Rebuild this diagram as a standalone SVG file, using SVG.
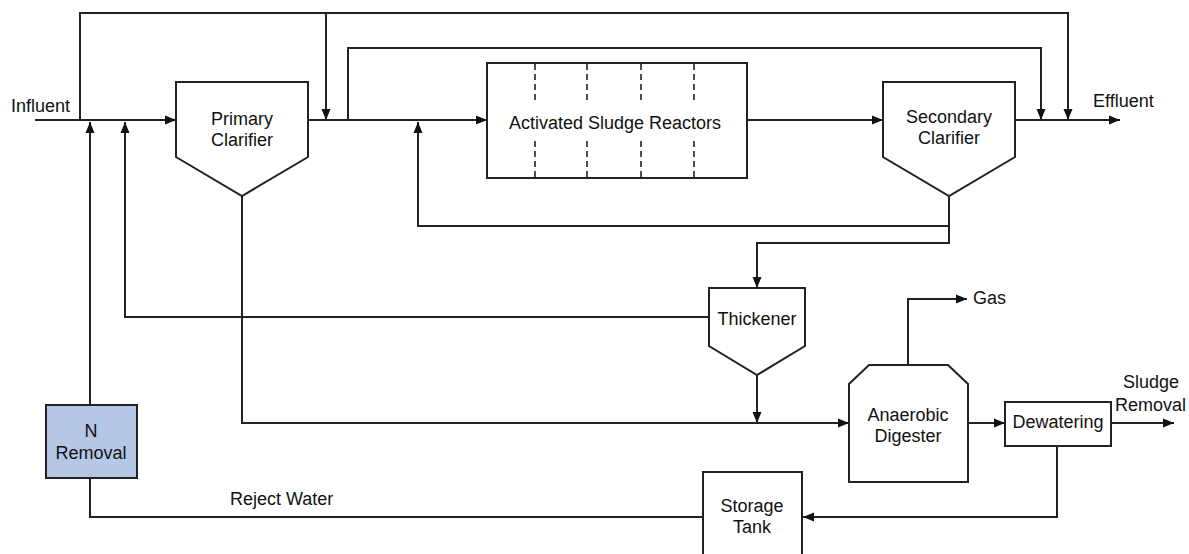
<svg xmlns="http://www.w3.org/2000/svg" width="1189" height="554" viewBox="0 0 1189 554">
<defs>
<marker id="arr" markerUnits="userSpaceOnUse" markerWidth="11" markerHeight="10" refX="11" refY="5" orient="auto">
<path d="M0,0.5 L11,5 L0,9.5 z" fill="#111"/>
</marker>
<style>
.n{fill:#fff;stroke:#222;stroke-width:2}
.c{fill:none;stroke:#222;stroke-width:2}
.a{marker-end:url(#arr)}
.d{stroke:#222;stroke-width:1.6;stroke-dasharray:6,4}
text{font-family:"Liberation Sans",Arial,sans-serif;font-size:18px;fill:#111}
.m{text-anchor:middle}
</style>
</defs>
<rect width="1189" height="554" fill="#fff"/>
<g id="connectors">
<path class="c a" d="M35,120 H176"/>
<path class="c a" d="M80,120 V13 H1068 V120"/>
<path class="c a" d="M326,13 V120"/>
<path class="c a" d="M308,120 H487"/>
<path class="c a" d="M348,120 V48 H1041 V120"/>
<path class="c a" d="M747,120 H883"/>
<path class="c a" d="M1015,120 H1120"/>
<path class="c a" d="M949,196 V243 H757 V288"/>
<path class="c a" d="M949,226 H418 V122"/>
<path class="c a" d="M709,317 H125 V122"/>
<path class="c a" d="M757,375 V423"/>
<path class="c a" d="M242,196 V423 H849"/>
<path class="c a" d="M908,365 V299 H967"/>
<path class="c a" d="M968,423 H1005"/>
<path class="c a" d="M1111,423 H1174"/>
<path class="c a" d="M1057,446 V517 H803"/>
<path class="c" d="M703,517 H90 V478"/>
<path class="c a" d="M90,405 V122"/>
</g>
<g id="primary-clarifier">
<path class="n" d="M176,82 H308 V157 L242,196 L176,157 Z"/>
<text class="m" x="242" y="125">Primary</text>
<text class="m" x="242" y="146">Clarifier</text>
</g>
<g id="activated-sludge-reactors">
<rect class="n" x="487" y="63" width="260" height="115"/>
<path class="d" d="M535,64 V103 M587,64 V103 M641,64 V103 M694,64 V103 M535,141 V177 M587,141 V177 M641,141 V177 M694,141 V177"/>
<text class="m" x="615" y="129">Activated Sludge Reactors</text>
</g>
<g id="secondary-clarifier">
<path class="n" d="M883,82 H1015 V157 L949,196 L883,157 Z"/>
<text class="m" x="949" y="123">Secondary</text>
<text class="m" x="949" y="144">Clarifier</text>
</g>
<g id="thickener">
<path class="n" d="M709,288 H805 V346 L757,375 L709,346 Z"/>
<text class="m" x="757" y="325">Thickener</text>
</g>
<g id="anaerobic-digester">
<path class="n" d="M869,365 H948 L968,384 V482 H849 V384 Z"/>
<text class="m" x="908" y="421">Anaerobic</text>
<text class="m" x="908" y="442">Digester</text>
</g>
<g id="dewatering">
<rect class="n" x="1005" y="402" width="106" height="44"/>
<text class="m" x="1058" y="428">Dewatering</text>
</g>
<g id="storage-tank">
<rect class="n" x="703" y="472" width="99" height="92"/>
<text class="m" x="752" y="512">Storage</text>
<text class="m" x="752" y="533">Tank</text>
</g>
<g id="n-removal">
<rect x="46" y="405" width="91" height="73" fill="#b4c7e7" stroke="#222" stroke-width="2"/>
<text class="m" x="91" y="437">N</text>
<text class="m" x="91" y="459">Removal</text>
</g>
<g id="labels">
<text x="11" y="112">Influent</text>
<text x="1093" y="107">Effluent</text>
<text x="973" y="304">Gas</text>
<text class="m" x="1151" y="388">Sludge</text>
<text x="1115" y="411">Removal</text>
<text x="230" y="505">Reject Water</text>
</g>
</svg>
